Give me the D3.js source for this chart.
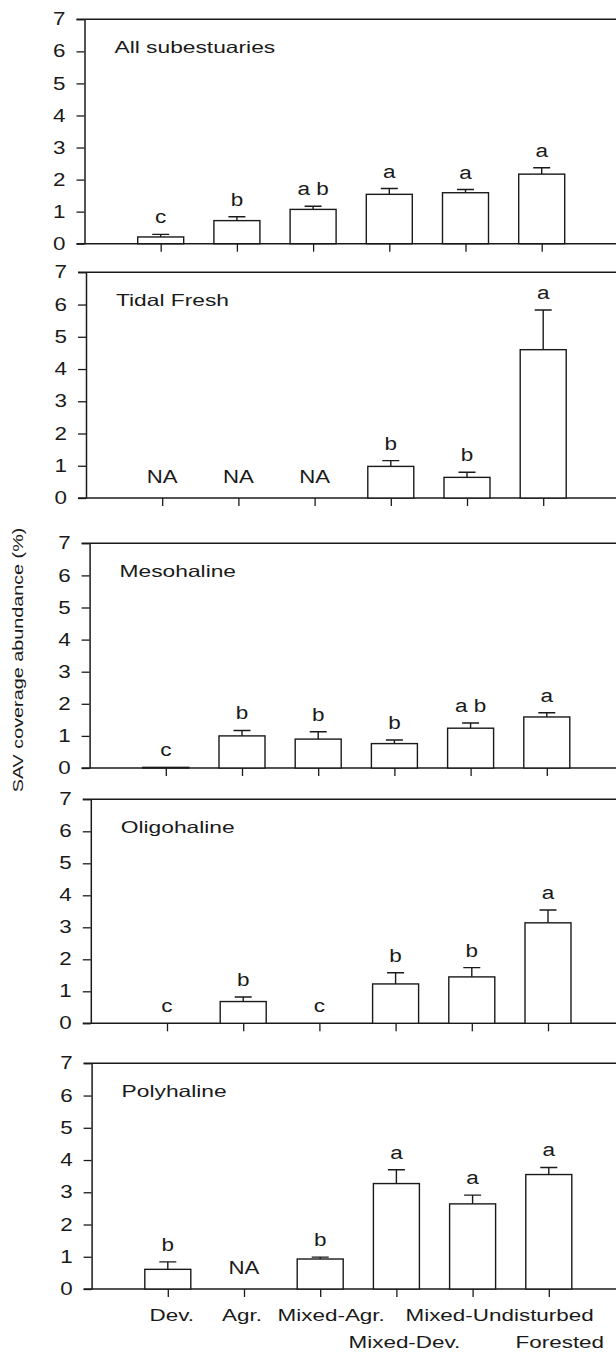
<!DOCTYPE html>
<html>
<head>
<meta charset="utf-8">
<script src="https://cdn.jsdelivr.net/npm/d3@7"></script>
<style>
  body { margin: 0; background: #fff; }
  svg { display: block; font-family: "Liberation Sans", Arial, sans-serif; }
</style>
</head>
<body>
<script>
// land-use categories along the x axis
const categories = ['Dev.', 'Agr.', 'Mixed-Agr.', 'Mixed-Dev.', 'Mixed-Undisturbed', 'Forested'];
const yTicks = [0, 1, 2, 3, 4, 5, 6, 7];

const panelTitles = ['All subestuaries', 'Tidal Fresh', 'Mesohaline', 'Oligohaline', 'Polyhaline'];

// mean SAV coverage (%), null = NA
const meansAll   = [0.21, 0.72, 1.07, 1.54, 1.59, 2.17];
const meansTidal = [null, null, null, 0.98, 0.64, 4.60];
const meansMeso  = [0.02, 1.00, 0.90, 0.76, 1.24, 1.59];
const meansOligo = [0.00, 0.68, 0.00, 1.23, 1.45, 3.14];
const meansPoly  = [0.61, null, 0.93, 3.27, 2.64, 3.55];

// standard errors (upper bar only)
const seAll   = [0.08, 0.12, 0.10, 0.18, 0.10, 0.20];
const seTidal = [null, null, null, 0.18, 0.16, 1.23];
const seMeso  = [0.00, 0.17, 0.23, 0.11, 0.16, 0.13];
const seOligo = [0.00, 0.14, 0.00, 0.35, 0.29, 0.40];
const sePoly  = [0.23, null, 0.06, 0.43, 0.27, 0.22];

// significance letters
const lettersAll   = ['c', 'b', 'a b', 'a', 'a', 'a'];
const lettersTidal = ['NA', 'NA', 'NA', 'b', 'b', 'a'];
const lettersMeso  = ['c', 'b', 'b', 'b', 'a b', 'a'];
const lettersOligo = ['c', 'b', 'c', 'b', 'b', 'a'];
const lettersPoly  = ['b', 'NA', 'b', 'a', 'a', 'a'];

const panelMeans = [meansAll, meansTidal, meansMeso, meansOligo, meansPoly];
const panelSE = [seAll, seTidal, seMeso, seOligo, sePoly];
const panelLetters = [lettersAll, lettersTidal, lettersMeso, lettersOligo, lettersPoly];

// layout of each panel on the page (scanned figure, slightly skewed)
const panelTop = [19.3, 272.3, 543.3, 799.3, 1063.3];
const panelZero = [243.7, 498, 768, 1023.3, 1289];
const panelLeft = [84.5, 86, 89.6, 90.8, 91.6];

// x label placement: row (0 upper, 1 lower) and nudge
const labelRow = [0, 0, 0, 1, 0, 1];
const labelNudge = [4, -2, 11, 8, 27, 11];

const width = 616;
const height = 1352;
const ink = '#1a1a1a';
const stretch = 1.38;
const step = 76.2;
const barWidth = 46;
const capWidth = 17;

const svg = d3.select('body')
  .append('svg')
  .attr('width', width)
  .attr('height', height);

// text that is wider than normal, like the scanned figure
const wideText = (g, x, y, str, size, sx, anchor) => {
  return g.append('text')
    .attr('transform', 'translate(' + x + ',' + y + ') scale(' + sx + ',1)')
    .attr('text-anchor', anchor || 'start')
    .attr('font-size', size)
    .attr('fill', ink)
    .text(str);
};

panelTitles.forEach((title, p) => {
  const left = panelLeft[p];
  const g = svg.append('g');

  const x = d3.scalePoint()
    .domain(categories)
    .range([left, left + step * 7])
    .padding(1);

  const y = d3.scaleLinear()
    .domain([0, 7])
    .range([panelZero[p], panelTop[p]]);

  // frame: top line, baseline, left axis
  g.append('line')
    .attr('x1', left - 8).attr('x2', width)
    .attr('y1', y(7)).attr('y2', y(7))
    .attr('stroke', ink).attr('stroke-width', 1.5);

  const yAxis = d3.axisLeft(y)
    .tickValues(yTicks)
    .tickSize(8)
    .tickSizeOuter(0)
    .tickFormat(d3.format('d'));
  const ya = g.append('g')
    .attr('transform', 'translate(' + left + ',0)')
    .call(yAxis);
  ya.select('.domain').attr('stroke', ink).attr('stroke-width', 1.5);
  ya.selectAll('.tick line').attr('stroke', ink).attr('stroke-width', 1.3);
  ya.selectAll('.tick text')
    .attr('x', -19 / 1.28)
    .attr('transform', 'scale(1.28,1)')
    .attr('font-size', 17.5)
    .attr('font-family', '"Liberation Sans", Arial, sans-serif')
    .attr('fill', ink);

  const xAxis = d3.axisBottom(x)
    .tickSize(8)
    .tickSizeOuter(0)
    .tickFormat('');
  const xa = g.append('g')
    .attr('transform', 'translate(0,' + y(0) + ')')
    .call(xAxis);
  xa.select('.domain').remove();
  xa.selectAll('.tick line').attr('stroke', ink).attr('stroke-width', 1.3);

  g.append('line')
    .attr('x1', left - 8).attr('x2', width)
    .attr('y1', y(0)).attr('y2', y(0))
    .attr('stroke', ink).attr('stroke-width', 1.5);

  wideText(g, left + 30, panelTop[p] + 34, title, 16.5, stretch);

  const rows = categories.map((c, i) => ({
    c: c,
    mean: panelMeans[p][i],
    se: panelSE[p][i],
    letter: panelLetters[p][i]
  }));

  const present = rows.filter((d) => d.mean !== null && d.mean > 0);

  // error bars (upper half only)
  g.selectAll('.err')
    .data(present.filter((d) => d.se > 0))
    .enter()
    .append('path')
    .attr('class', 'err')
    .attr('d', (d) => {
      const cx = x(d.c);
      const top = y(d.mean + d.se);
      return 'M' + cx + ',' + y(d.mean) + 'V' + top +
             'M' + (cx - capWidth / 2) + ',' + top + 'H' + (cx + capWidth / 2);
    })
    .attr('fill', 'none')
    .attr('stroke', ink)
    .attr('stroke-width', 1.4);

  g.selectAll('.bar')
    .data(present)
    .enter()
    .append('rect')
    .attr('class', 'bar')
    .attr('x', (d) => x(d.c) - barWidth / 2)
    .attr('y', (d) => y(d.mean))
    .attr('width', barWidth)
    .attr('height', (d) => y(0) - y(d.mean))
    .attr('fill', '#fff')
    .attr('stroke', ink)
    .attr('stroke-width', 1.4);

  rows.forEach((d) => {
    if (d.letter === 'NA') {
      wideText(g, x(d.c), y(0) - 15, 'NA', 18.5, 1.2, 'middle');
    } else {
      const top = y((d.mean || 0) + (d.se || 0));
      wideText(g, x(d.c), top - 11, d.letter, 18, 1.25, 'middle');
    }
  });

  // category names under the last panel only
  if (p === panelTitles.length - 1) {
    categories.forEach((c, i) => {
      wideText(g, x(c) + labelNudge[i], y(0) + 32 + labelRow[i] * 27, c, 16.5, 1.36, 'middle');
    });
  }
});

// y axis title
svg.append('text')
  .attr('transform', 'translate(23,660) rotate(-90) scale(1.32,1)')
  .attr('text-anchor', 'middle')
  .attr('font-size', 15)
  .attr('fill', ink)
  .text('SAV coverage abundance (%)');
</script>
</body>
</html>
